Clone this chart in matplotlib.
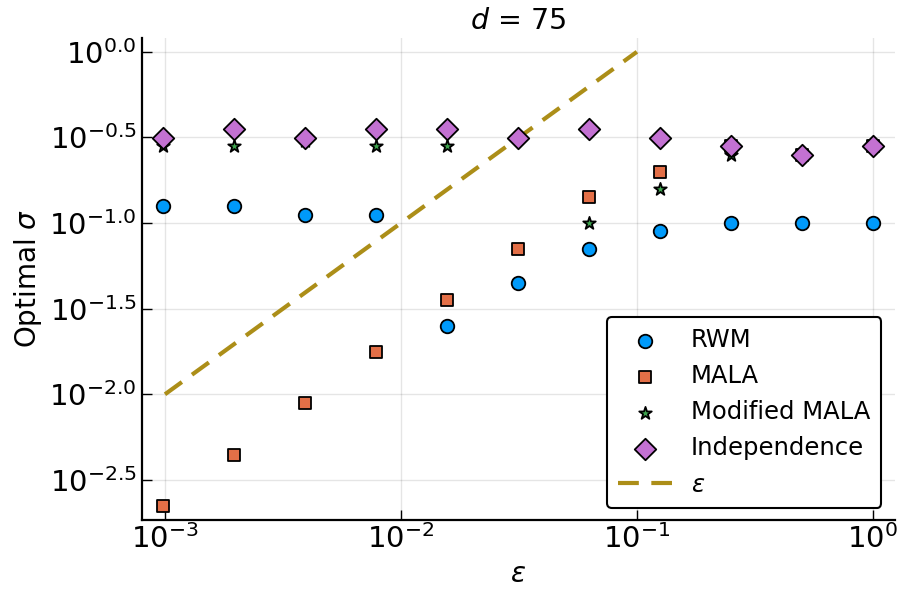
"""Optimal sigma vs epsilon, d = 75"""

import matplotlib
matplotlib.use('Agg')
import matplotlib.pyplot as plt
from matplotlib.ticker import FixedLocator, FixedFormatter

# данные
eps = [2.0 ** k for k in range(-10, 1)]
rwm = [0.126, 0.126, 0.112, 0.112, 0.0251, 0.0447, 0.0708, 0.0893, 0.100, 0.100, 0.100]
mala = [0.00222, 0.00444, 0.00889, 0.0177, 0.0356, 0.0708, 0.142, 0.200, 0.282, 0.251, 0.282]
mod_mala = [0.282, 0.282, 0.300, 0.282, 0.282, 0.316, 0.100, 0.158, 0.251, 0.251, 0.282]
indep = [0.316, 0.356, 0.316, 0.356, 0.356, 0.316, 0.356, 0.316, 0.282, 0.251, 0.282]
ref_x = [1e-3, 1e-1]
ref_y = [1e-2, 1e0]

y_exps = [-2.5, -2.0, -1.5, -1.0, -0.5, 0.0]
y_labels = [r'$\mathregular{10^{-2.5}}$', r'$\mathregular{10^{-2.0}}$', r'$\mathregular{10^{-1.5}}$',
            r'$\mathregular{10^{-1.0}}$', r'$\mathregular{10^{-0.5}}$', r'$\mathregular{10^{0.0}}$']
x_ticks = [1e-3, 1e-2, 1e-1, 1e0]
x_labels = [r'$\mathregular{10^{-3}}$', r'$\mathregular{10^{-2}}$', r'$\mathregular{10^{-1}}$',
            r'$\mathregular{10^{0}}$']

plt.rcParams['font.family'] = ['DejaVu Sans']

fig = plt.figure(figsize=(9, 6), dpi=100)
ax = fig.add_axes([0.1574, 0.134, 0.837, 0.803])

ax.scatter(eps, rwm, s=95, marker='o', color='#009AFA', edgecolors='black', linewidths=1.3,
           label='RWM', zorder=3)
ax.scatter(eps, mala, s=85, marker='s', color='#E36F47', edgecolors='black', linewidths=1.3,
           label='MALA', zorder=3)
ax.scatter(eps, mod_mala, s=90, marker='*', color='#3EA44E', edgecolors='black', linewidths=1.3,
           label='Modified MALA', zorder=4)
ax.scatter(eps, indep, s=120, marker='D', color='#C371D2', edgecolors='black', linewidths=1.3,
           label='Independence', zorder=5)
ax.plot(ref_x, ref_y, '--', color='#AC8E18', linewidth=3, dashes=(5, 3), label=r'$\varepsilon$',
        zorder=2)

ax.set_xscale('log')
ax.set_yscale('log')
ax.set_xlim(10 ** -3.099, 10 ** 0.094)
ax.set_ylim(10 ** -2.732, 10 ** 0.082)

ax.xaxis.set_major_locator(FixedLocator(x_ticks))
ax.xaxis.set_major_formatter(FixedFormatter(x_labels))
ax.yaxis.set_major_locator(FixedLocator([10 ** e for e in y_exps]))
ax.yaxis.set_major_formatter(FixedFormatter(y_labels))
ax.xaxis.set_minor_locator(FixedLocator([]))
ax.yaxis.set_minor_locator(FixedLocator([]))

ax.tick_params(direction='in', length=7, width=1, labelsize=21)
ax.grid(True, color='black', alpha=0.1, linewidth=1)
for side in ('top', 'right'):
    ax.spines[side].set_visible(False)
for side in ('left', 'bottom'):
    ax.spines[side].set_linewidth(1.6)

ax.set_title(r'$d$ = 75', fontsize=20.5)
ax.set_xlabel(r'$\varepsilon$', fontsize=20)
ax.set_ylabel(r'Optimal $\sigma$', fontsize=20)

leg = ax.legend(loc='lower right', bbox_to_anchor=(0.982, 0.025), borderaxespad=0,
                fontsize=17.5, frameon=True, fancybox=True, edgecolor='black', framealpha=1,
                handlelength=2.2, labelspacing=0.5, borderpad=0.45)
leg.get_frame().set_linewidth(1.5)

fig.savefig('out.png', dpi=100)
